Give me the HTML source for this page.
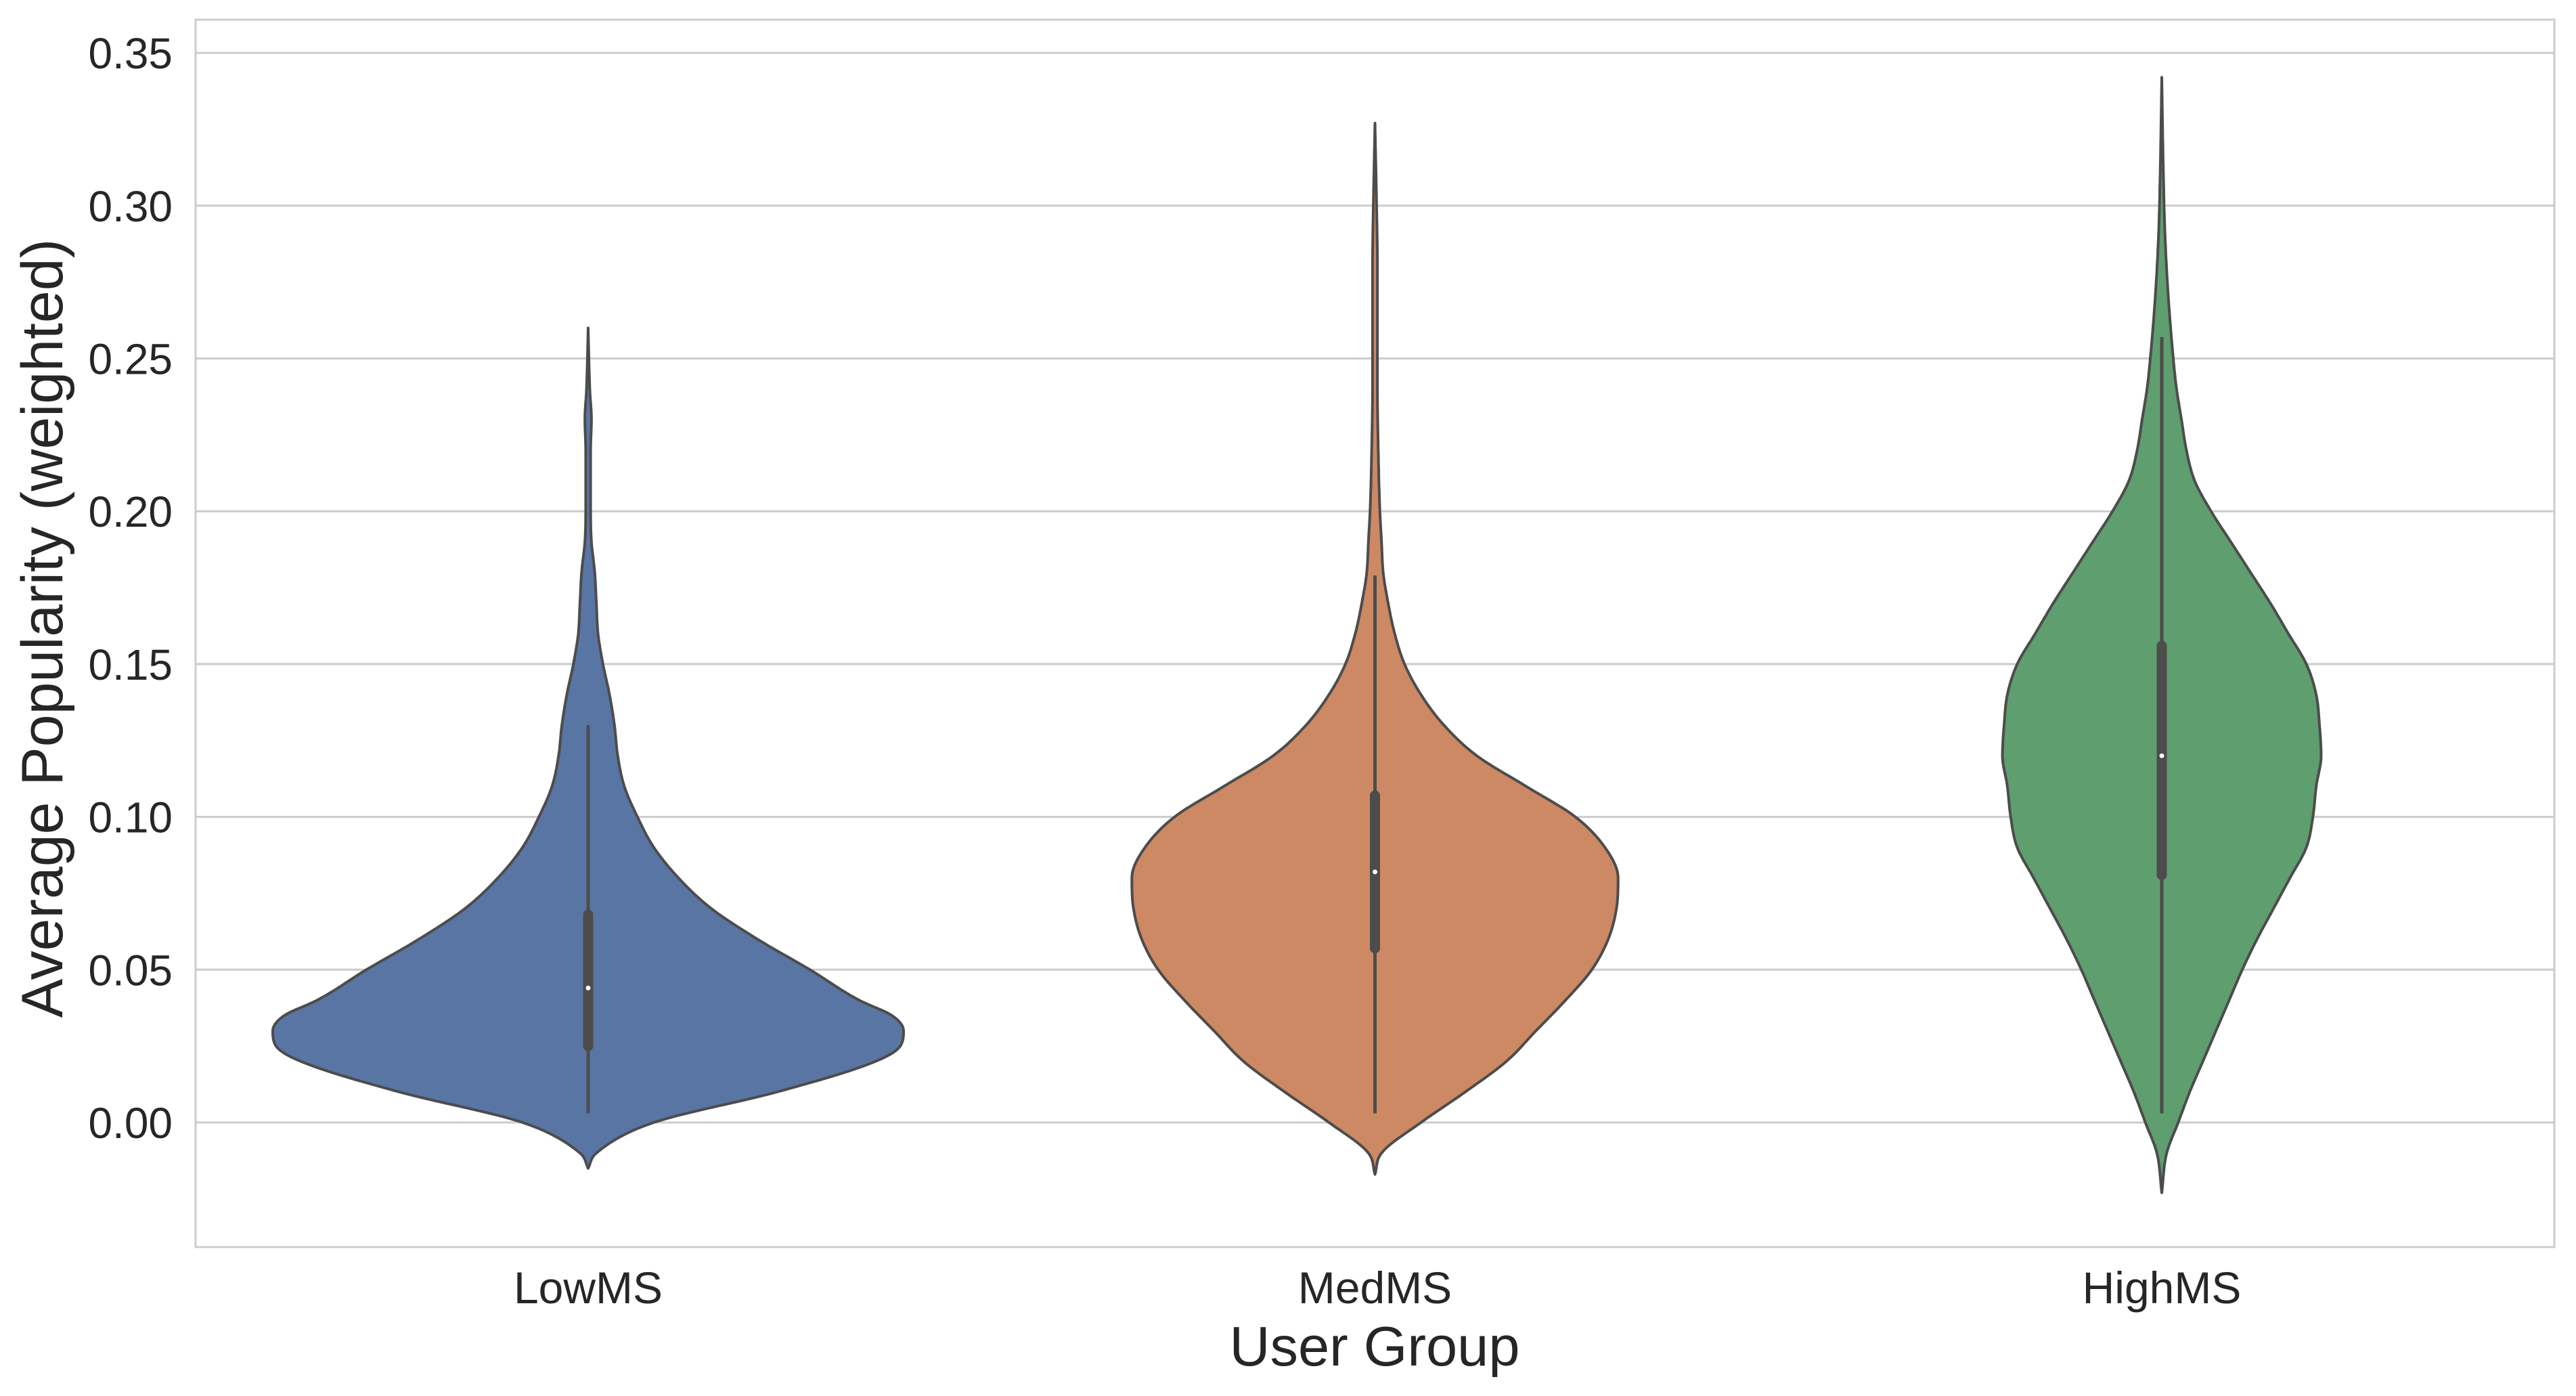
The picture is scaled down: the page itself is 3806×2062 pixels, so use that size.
<!DOCTYPE html>
<html><head><meta charset="utf-8"><style>
html,body{margin:0;padding:0;background:#fff;}
svg{display:block;}
text{font-family:"Liberation Sans",Arial,sans-serif;fill:#262626;}
</style></head><body>
<svg id="chart" width="3806" height="2062" viewBox="0 0 3806 2062" xmlns="http://www.w3.org/2000/svg">
<g id="grid"></g>
<g id="violins"></g>
<rect x="289" y="29" width="3485" height="1813" fill="none" stroke="#cccccc" stroke-width="3"/>
<g id="yticks"></g>
<g id="xticks"></g>
<text x="2031" y="2017" font-size="83" text-anchor="middle">User Group</text>
<text x="0" y="0" font-size="86" text-anchor="middle" transform="translate(92,928) rotate(-90)">Average Popularity (weighted)</text>
</svg>
<script>
const categories = ["LowMS","MedMS","HighMS"];
const colors = ["#5975a4","#cc8963","#5f9e6e"];
const yTicks = [0,0.05,0.10,0.15,0.20,0.25,0.30,0.35];
const yTickLabels = ["0.00","0.05","0.10","0.15","0.20","0.25","0.30","0.35"];
const lowVals = [-0.015,-0.01,0,0.01,0.02,0.025,0.03,0.035,0.04,0.05,0.06,0.07,0.08,0.09,0.10,0.11,0.12,0.13,0.14,0.15,0.16,0.17,0.18,0.19,0.20,0.22,0.23,0.24,0.26];
const lowDens = [0,5,40,115,175,190,192,185,165,135,103,75,55,40,30,22,18,16,13,9,6,5,4,2,1.5,1.5,2,1,0];
const medVals = [-0.017,-0.01,0,0.01,0.02,0.03,0.04,0.05,0.06,0.07,0.08,0.09,0.10,0.11,0.12,0.13,0.14,0.15,0.16,0.17,0.18,0.19,0.20,0.22,0.24,0.26,0.28,0.30,0.327];
const medDens = [0,4,28,55,80,98,116,132,142,147,148,140,122,92,62,42,28,18,12,8,5,4,3,2,1.5,1.5,1.5,1,0];
const highVals = [-0.023,-0.01,0,0.01,0.02,0.03,0.04,0.05,0.06,0.07,0.08,0.09,0.10,0.11,0.12,0.13,0.14,0.15,0.16,0.17,0.18,0.19,0.20,0.21,0.22,0.23,0.24,0.25,0.27,0.29,0.31,0.342];
const highDens = [0,3,10,17,25,33,41,49,58,68,78,88,92,94,97,96,94,88,77,66,54,42,30,20,15,12,9,7,4,2,1,0];
const q1 = [0.025,0.057,0.081];
const q3 = [0.068,0.107,0.156];
const medians = [0.044,0.082,0.120];
const whiskLo = [0.003,0.003,0.003];
const whiskHi = [0.130,0.179,0.257];

const NS="http://www.w3.org/2000/svg";
const y = v => 1658 - v*4514;
const xc = i => 869 + i*1162.5;
const maxDens = Math.max(...lowDens,...medDens,...highDens);
const wScale = 466/maxDens;
function mk(tag, attrs, parent){const e=document.createElementNS(NS,tag);for(const k in attrs)e.setAttribute(k,attrs[k]);parent.appendChild(e);return e;}
const grid=document.getElementById('grid');
const yt=document.getElementById('yticks');
yTicks.forEach((t,i)=>{
  const l=mk('line',{x1:289,x2:3774,y1:y(t),y2:y(t),stroke:'#cccccc','stroke-width':3},grid);
  
  
  const tx=mk('text',{x:255,y:y(t)+23,'font-size':64,'text-anchor':'end'},yt);
  tx.textContent=yTickLabels[i];
  
  
});
const xt=document.getElementById('xticks');
categories.forEach((c,i)=>{
  const tx=mk('text',{x:xc(i),y:1925,'font-size':66,'text-anchor':'middle'},xt);
  tx.textContent=c;
  
  
});
// monotone cubic interpolation (Fritsch-Carlson)
function monotone(xs, ys){
  const n=xs.length, d=[], m=new Array(n);
  for(let i=0;i<n-1;i++) d.push((ys[i+1]-ys[i])/(xs[i+1]-xs[i]));
  m[0]=d[0]; m[n-1]=d[n-2];
  for(let i=1;i<n-1;i++){ m[i]=(d[i-1]*d[i]<=0)?0:(d[i-1]+d[i])/2; }
  for(let i=0;i<n-1;i++){
    if(d[i]===0){m[i]=0;m[i+1]=0;continue;}
    const a=m[i]/d[i], b=m[i+1]/d[i], s=a*a+b*b;
    if(s>9){const t=3/Math.sqrt(s);m[i]=t*a*d[i];m[i+1]=t*b*d[i];}
  }
  return function(x){
    let i=0; while(i<n-2 && x>xs[i+1]) i++;
    const h=xs[i+1]-xs[i], t=(x-xs[i])/h, t2=t*t, t3=t2*t;
    return (2*t3-3*t2+1)*ys[i]+(t3-2*t2+t)*h*m[i]+(-2*t3+3*t2)*ys[i+1]+(t3-t2)*h*m[i+1];
  };
}
const vg=document.getElementById('violins');
const allVals=[lowVals,medVals,highVals], allDens=[lowDens,medDens,highDens];
categories.forEach((c,i)=>{
  const cx=xc(i), vals=allVals[i], f=monotone(vals, allDens[i]);
  const v0=vals[0], v1=vals[vals.length-1], N=400;
  const right=[], left=[];
  for(let k=0;k<=N;k++){
    const v=v0+(v1-v0)*k/N, w=Math.max(0,f(v))*wScale;
    right.push((cx+w).toFixed(1)+','+y(v).toFixed(1));
    left.push((cx-w).toFixed(1)+','+y(v).toFixed(1));
  }
  const d='M'+right.join(' L')+' L'+left.reverse().join(' L')+' Z';
  const g=mk('g',{},vg);
  
  
  const p=mk('path',{d:d,fill:colors[i],stroke:'#4c4c4c','stroke-width':4,'stroke-linejoin':'round'},g);
  
  
  const w=mk('line',{x1:cx,x2:cx,y1:y(whiskLo[i]),y2:y(whiskHi[i]),stroke:'#4c4c4c','stroke-width':5},g);
  
  
  const b=mk('line',{x1:cx,x2:cx,y1:y(q1[i]),y2:y(q3[i]),stroke:'#4c4c4c','stroke-width':15,'stroke-linecap':'round'},g);
  
  
  const m=mk('circle',{cx:cx,cy:y(medians[i]),r:3.5,fill:'#ffffff'},g);
  
  
});
</script>
</body></html>
